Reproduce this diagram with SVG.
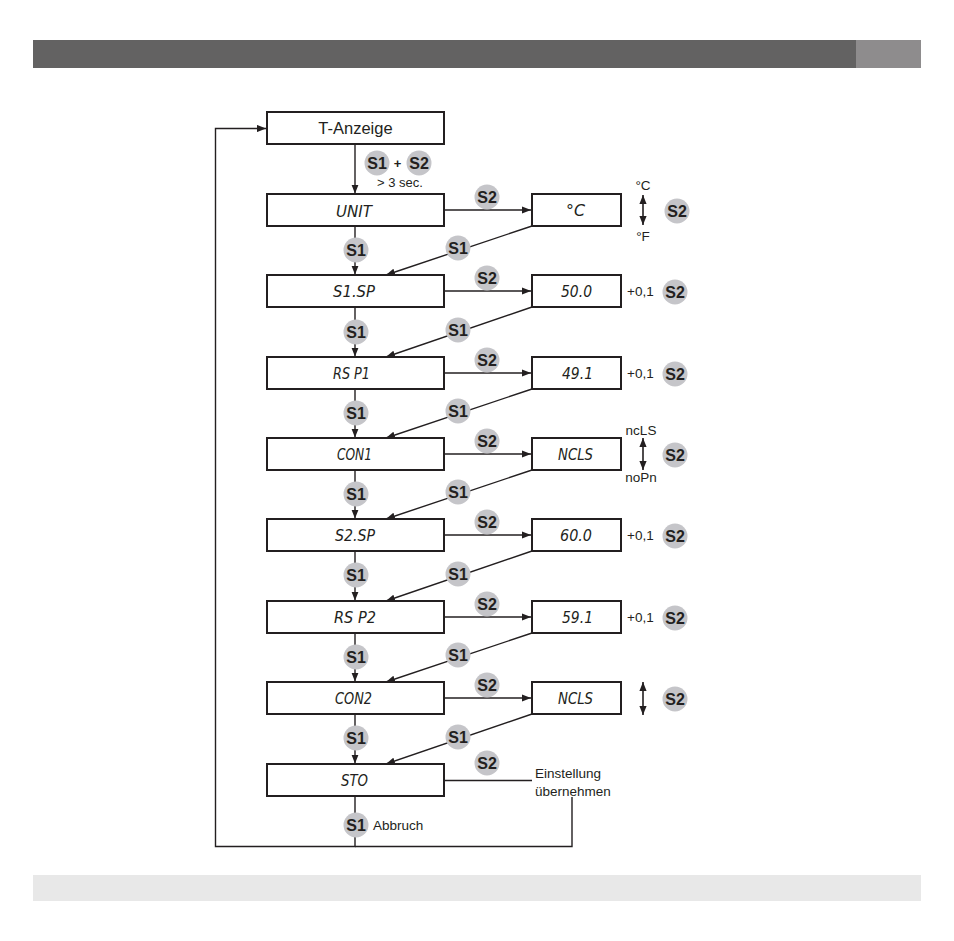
<svg xmlns="http://www.w3.org/2000/svg" width="954" height="941" viewBox="0 0 954 941">
<style>
.box{fill:#fff;stroke:#231f20;stroke-width:2}
.ln{fill:none;stroke:#231f20;stroke-width:1.4}
.ar{fill:none;stroke:#231f20;stroke-width:1.4;marker-end:url(#ah)}
.dar{fill:none;stroke:#231f20;stroke-width:1.6;marker-end:url(#ah);marker-start:url(#ah)}
.bc{fill:#c5c5c9}
.bt{font-family:"Liberation Sans",Arial,sans-serif;font-weight:bold;font-size:16px;fill:#231f20;text-anchor:middle}
.seg{font-family:"DejaVu Sans",sans-serif;font-style:italic;font-weight:200;font-size:15px;fill:#231f20}
.lbl{font-family:"Liberation Sans",Arial,sans-serif;font-size:13.5px;fill:#231f20}
.big{font-family:"Liberation Sans",Arial,sans-serif;font-size:16.5px;fill:#231f20;text-anchor:middle}
</style>
<defs>
<marker id="ah" viewBox="0 0 10 8" refX="10" refY="4" markerWidth="9" markerHeight="7.5" markerUnits="userSpaceOnUse" orient="auto-start-reverse">
<path d="M0,0 L10,4 L0,8 z" fill="#231f20"/>
</marker>
</defs>
<rect x="0" y="0" width="954" height="941" fill="#fff"/>
<g id="header">
<rect x="33" y="40" width="823" height="28" fill="#636262"/>
<rect x="856" y="40" width="65" height="28" fill="#8e8c8d"/>
</g>
<g id="footer">
<rect x="33" y="875" width="888" height="26" fill="#e8e8e8"/>
</g>

<g id="connectors">
<polyline class="ar" points="355,797 355,846.5 215.5,846.5 215.5,128.5 266,128.5"/>
<polyline class="ln" points="572,797 572,846.5 355,846.5"/>
<line class="ln" x1="444" y1="780.5" x2="532" y2="780.5"/>
<line class="ar" x1="355" y1="144" x2="355" y2="193.5"/>
<line class="ar" x1="355" y1="226" x2="355" y2="274.5"/>
<line class="ar" x1="355" y1="307" x2="355" y2="356.5"/>
<line class="ar" x1="355" y1="389" x2="355" y2="437.5"/>
<line class="ar" x1="355" y1="470" x2="355" y2="518.5"/>
<line class="ar" x1="355" y1="551" x2="355" y2="600.5"/>
<line class="ar" x1="355" y1="633" x2="355" y2="681.5"/>
<line class="ar" x1="355" y1="714" x2="355" y2="763.5"/>
<line class="ar" x1="444" y1="210" x2="531" y2="210"/>
<line class="ar" x1="444" y1="291" x2="531" y2="291"/>
<line class="ar" x1="444" y1="373" x2="531" y2="373"/>
<line class="ar" x1="444" y1="454" x2="531" y2="454"/>
<line class="ar" x1="444" y1="535" x2="531" y2="535"/>
<line class="ar" x1="444" y1="617" x2="531" y2="617"/>
<line class="ar" x1="444" y1="698" x2="531" y2="698"/>
<line class="ar" x1="532" y1="226" x2="386" y2="275"/>
<line class="ar" x1="532" y1="307" x2="386" y2="357"/>
<line class="ar" x1="532" y1="389" x2="386" y2="438"/>
<line class="ar" x1="532" y1="470" x2="386" y2="519"/>
<line class="ar" x1="532" y1="551" x2="386" y2="601"/>
<line class="ar" x1="532" y1="633" x2="386" y2="682"/>
<line class="ar" x1="532" y1="714" x2="386" y2="764"/>
<line class="dar" x1="643" y1="195" x2="643" y2="225"/>
<line class="dar" x1="643" y1="438" x2="643" y2="470"/>
<line class="dar" x1="643" y1="682" x2="643" y2="715"/>
</g>

<g id="badges">
<g><circle class="bc" cx="377" cy="163" r="12.5"/><text class="bt" x="377" y="168.5">S1</text></g>
<text class="bt" x="397.5" y="168" style="font-size:13px">+</text>
<g><circle class="bc" cx="419" cy="163" r="12.5"/><text class="bt" x="419" y="168.5">S2</text></g>
<text class="lbl" x="400" y="187" text-anchor="middle" style="font-size:13px">&gt; 3 sec.</text>

<g><circle class="bc" cx="356" cy="250" r="12.5"/><text class="bt" x="356" y="255.5">S1</text></g>
<g><circle class="bc" cx="356" cy="332" r="12.5"/><text class="bt" x="356" y="337.5">S1</text></g>
<g><circle class="bc" cx="356" cy="413" r="12.5"/><text class="bt" x="356" y="418.5">S1</text></g>
<g><circle class="bc" cx="356" cy="494" r="12.5"/><text class="bt" x="356" y="499.5">S1</text></g>
<g><circle class="bc" cx="356" cy="575" r="12.5"/><text class="bt" x="356" y="580.5">S1</text></g>
<g><circle class="bc" cx="356" cy="657" r="12.5"/><text class="bt" x="356" y="662.5">S1</text></g>
<g><circle class="bc" cx="356" cy="738" r="12.5"/><text class="bt" x="356" y="743.5">S1</text></g>
<g><circle class="bc" cx="356" cy="825" r="12.5"/><text class="bt" x="356" y="830.5">S1</text></g>

<g><circle class="bc" cx="458" cy="248" r="12.5"/><text class="bt" x="458" y="253.5">S1</text></g>
<g><circle class="bc" cx="458" cy="330" r="12.5"/><text class="bt" x="458" y="335.5">S1</text></g>
<g><circle class="bc" cx="458" cy="411" r="12.5"/><text class="bt" x="458" y="416.5">S1</text></g>
<g><circle class="bc" cx="458" cy="492" r="12.5"/><text class="bt" x="458" y="497.5">S1</text></g>
<g><circle class="bc" cx="458" cy="574" r="12.5"/><text class="bt" x="458" y="579.5">S1</text></g>
<g><circle class="bc" cx="458" cy="655" r="12.5"/><text class="bt" x="458" y="660.5">S1</text></g>
<g><circle class="bc" cx="458" cy="737" r="12.5"/><text class="bt" x="458" y="742.5">S1</text></g>

<g><circle class="bc" cx="487" cy="197" r="12.5"/><text class="bt" x="487" y="202.5">S2</text></g>
<g><circle class="bc" cx="487" cy="278" r="12.5"/><text class="bt" x="487" y="283.5">S2</text></g>
<g><circle class="bc" cx="487" cy="360" r="12.5"/><text class="bt" x="487" y="365.5">S2</text></g>
<g><circle class="bc" cx="487" cy="441" r="12.5"/><text class="bt" x="487" y="446.5">S2</text></g>
<g><circle class="bc" cx="487" cy="522" r="12.5"/><text class="bt" x="487" y="527.5">S2</text></g>
<g><circle class="bc" cx="487" cy="604" r="12.5"/><text class="bt" x="487" y="609.5">S2</text></g>
<g><circle class="bc" cx="487" cy="685" r="12.5"/><text class="bt" x="487" y="690.5">S2</text></g>
<g><circle class="bc" cx="487" cy="763" r="12.5"/><text class="bt" x="487" y="768.5">S2</text></g>

<g><circle class="bc" cx="677" cy="211" r="12.5"/><text class="bt" x="677" y="216.5">S2</text></g>
<g><circle class="bc" cx="675" cy="292" r="12.5"/><text class="bt" x="675" y="297.5">S2</text></g>
<g><circle class="bc" cx="675" cy="374" r="12.5"/><text class="bt" x="675" y="379.5">S2</text></g>
<g><circle class="bc" cx="675" cy="455" r="12.5"/><text class="bt" x="675" y="460.5">S2</text></g>
<g><circle class="bc" cx="675" cy="536" r="12.5"/><text class="bt" x="675" y="541.5">S2</text></g>
<g><circle class="bc" cx="675" cy="618" r="12.5"/><text class="bt" x="675" y="623.5">S2</text></g>
<g><circle class="bc" cx="675" cy="699" r="12.5"/><text class="bt" x="675" y="704.5">S2</text></g>
</g>

<g id="side-labels">
<text class="lbl" x="643" y="190" text-anchor="middle">°C</text>
<text class="lbl" x="643" y="241" text-anchor="middle">°F</text>
<text class="lbl" x="627" y="296">+0,1</text>
<text class="lbl" x="627" y="378">+0,1</text>
<text class="lbl" x="641" y="435" text-anchor="middle">ncLS</text>
<text class="lbl" x="641" y="482" text-anchor="middle">noPn</text>
<text class="lbl" x="627" y="540">+0,1</text>
<text class="lbl" x="627" y="622">+0,1</text>
<text class="lbl" x="535" y="778">Einstellung</text>
<text class="lbl" x="535" y="796">übernehmen</text>
<text class="lbl" x="373" y="830">Abbruch</text>
</g>

<g id="n-tanzeige"><rect class="box" x="267" y="112" width="177" height="32"/><text class="big" x="355.5" y="134">T-Anzeige</text></g>
<g id="n-unit"><rect class="box" x="267" y="194" width="177" height="32"/><text class="seg" x="336" y="217" textLength="36" lengthAdjust="spacingAndGlyphs">UNIT</text></g>
<g id="n-s1sp"><rect class="box" x="267" y="275" width="177" height="32"/><text class="seg" x="333" y="297" textLength="42" lengthAdjust="spacingAndGlyphs">S1.SP</text></g>
<g id="n-rsp1"><rect class="box" x="267" y="357" width="177" height="32"/><text class="seg" x="333" y="379" textLength="37" lengthAdjust="spacingAndGlyphs">RS P1</text></g>
<g id="n-con1"><rect class="box" x="267" y="438" width="177" height="32"/><text class="seg" x="337" y="460" textLength="35" lengthAdjust="spacingAndGlyphs">CON1</text></g>
<g id="n-s2sp"><rect class="box" x="267" y="519" width="177" height="32"/><text class="seg" x="335" y="541" textLength="40" lengthAdjust="spacingAndGlyphs">S2.SP</text></g>
<g id="n-rsp2"><rect class="box" x="267" y="601" width="177" height="32"/><text class="seg" x="334" y="623" textLength="42" lengthAdjust="spacingAndGlyphs">RS P2</text></g>
<g id="n-con2"><rect class="box" x="267" y="682" width="177" height="32"/><text class="seg" x="335" y="704" textLength="37" lengthAdjust="spacingAndGlyphs">CON2</text></g>
<g id="n-sto"><rect class="box" x="267" y="764" width="177" height="32"/><text class="seg" x="341" y="786" textLength="27" lengthAdjust="spacingAndGlyphs">STO</text></g>

<g id="v-unit"><rect class="box" x="532" y="194" width="89" height="32"/><text class="seg" x="566" y="216" textLength="19" lengthAdjust="spacingAndGlyphs">°C</text></g>
<g id="v-s1sp"><rect class="box" x="532" y="275" width="89" height="32"/><text class="seg" x="561" y="297" textLength="31" lengthAdjust="spacingAndGlyphs">50.0</text></g>
<g id="v-rsp1"><rect class="box" x="532" y="357" width="89" height="32"/><text class="seg" x="562" y="379" textLength="31" lengthAdjust="spacingAndGlyphs">49.1</text></g>
<g id="v-con1"><rect class="box" x="532" y="438" width="89" height="32"/><text class="seg" x="558" y="460" textLength="35" lengthAdjust="spacingAndGlyphs">NCLS</text></g>
<g id="v-s2sp"><rect class="box" x="532" y="519" width="89" height="32"/><text class="seg" x="560" y="541" textLength="32" lengthAdjust="spacingAndGlyphs">60.0</text></g>
<g id="v-rsp2"><rect class="box" x="532" y="601" width="89" height="32"/><text class="seg" x="562" y="623" textLength="31" lengthAdjust="spacingAndGlyphs">59.1</text></g>
<g id="v-con2"><rect class="box" x="532" y="682" width="89" height="32"/><text class="seg" x="558" y="704" textLength="35" lengthAdjust="spacingAndGlyphs">NCLS</text></g>
</svg>
